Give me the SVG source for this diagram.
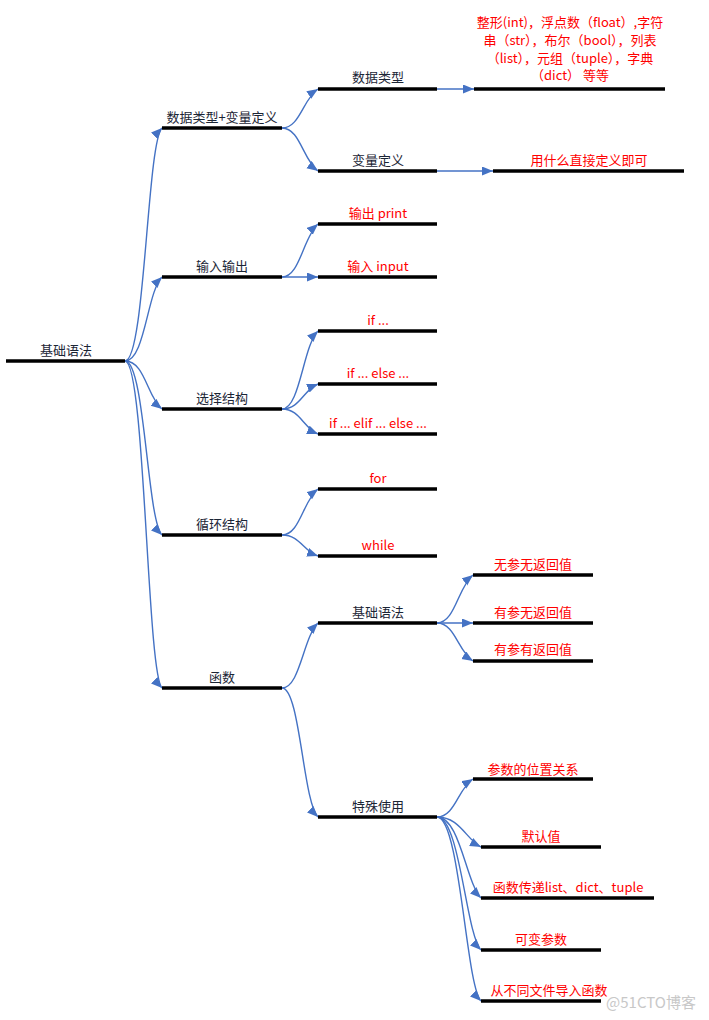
<svg xmlns="http://www.w3.org/2000/svg" width="709" height="1020" viewBox="0 0 709 1020">
<style>
.bar{stroke:#000;stroke-width:3.5;fill:none}
.c{stroke:#4472C4;stroke-width:1.4;fill:none;marker-end:url(#ar)}
text{font-family:"Microsoft YaHei","Noto Sans CJK SC","Noto Sans",sans-serif;font-size:13px;text-anchor:middle}
.d{fill:#1B2535}
.r{fill:#FF0000}
</style>
<defs>
<marker id="ar" markerUnits="userSpaceOnUse" markerWidth="12" markerHeight="10" refX="11" refY="4.5" orient="auto">
<path d="M0,0 L11,4.5 L0,9 z" fill="#4472C4"/>
</marker>
</defs>
<rect width="709" height="1020" fill="#fff"/>
<g id="connectors">
<path class="c" d="M125,361 C145,361 147,143 162,128"/>
<path class="c" d="M125,361 C145,361 147,292 162,277"/>
<path class="c" d="M125,361 C145,361 147,397 162,409"/>
<path class="c" d="M125,361 C145,361 147,520 162,535"/>
<path class="c" d="M125,361 C145,361 147,673 162,688"/>
<path class="c" d="M282,128 C300,128 303,98.75 318,89"/>
<path class="c" d="M282,128 C300,128 303,160.25 318,171"/>
<path class="c" d="M437,89 L474,89"/>
<path class="c" d="M437,171 L493,171"/>
<path class="c" d="M282,277 C300,277 303,237.25 318,224"/>
<path class="c" d="M282,277 L318,277"/>
<path class="c" d="M282,409 C300,409 303,346 318,331"/>
<path class="c" d="M282,409 C300,409 303,390.25 318,384"/>
<path class="c" d="M282,409 C300,409 303,427.75 318,434"/>
<path class="c" d="M282,535 C300,535 303,500.5 318,489"/>
<path class="c" d="M282,535 C300,535 303,550.75 318,556"/>
<path class="c" d="M282,688 C300,688 303,638 318,623"/>
<path class="c" d="M282,688 C300,688 303,802 318,817"/>
<path class="c" d="M437,623 C455,623 458,587 473,575"/>
<path class="c" d="M437,623 L473,623"/>
<path class="c" d="M437,623 C455,623 458,651.5 473,661"/>
<path class="c" d="M437,817 C455,817 458,788.5 473,779"/>
<path class="c" d="M437,817 C460,817 466,839.5 481,847"/>
<path class="c" d="M437,817 C460,817 466,883 481,898"/>
<path class="c" d="M437,817 C460,817 466,935 481,950"/>
<path class="c" d="M437,817 C460,817 466,986 481,1001"/>
</g>
<g id="root"><line class="bar" x1="6" y1="361" x2="125" y2="361"/><text class="d" x="66" y="355">基础语法</text></g>
<g id="n1"><line class="bar" x1="162" y1="128" x2="282" y2="128"/><text class="d" x="222" y="122">数据类型+变量定义</text></g>
<g id="n2"><line class="bar" x1="162" y1="277" x2="282" y2="277"/><text class="d" x="222" y="271">输入输出</text></g>
<g id="n3"><line class="bar" x1="162" y1="409" x2="282" y2="409"/><text class="d" x="222" y="403">选择结构</text></g>
<g id="n4"><line class="bar" x1="162" y1="535" x2="282" y2="535"/><text class="d" x="222" y="529">循环结构</text></g>
<g id="n5"><line class="bar" x1="162" y1="688" x2="282" y2="688"/><text class="d" x="222" y="682">函数</text></g>
<g id="n1a"><line class="bar" x1="318" y1="89" x2="437" y2="89"/><text class="d" x="378" y="82">数据类型</text></g>
<g id="n1b"><line class="bar" x1="318" y1="171" x2="437" y2="171"/><text class="d" x="378" y="165">变量定义</text></g>
<g id="n1a1"><line class="bar" x1="474" y1="89" x2="665" y2="89"/>
<text class="r" x="570" y="27">整形(int)，浮点数（float）,字符</text>
<text class="r" x="570" y="45">串（str），布尔（bool），列表</text>
<text class="r" x="570" y="63">（list），元组（tuple），字典</text>
<text class="r" x="570" y="80">（dict） 等等</text></g>
<g id="n1b1"><line class="bar" x1="493" y1="171" x2="684" y2="171"/><text class="r" x="589" y="165">用什么直接定义即可</text></g>
<g id="n2a"><line class="bar" x1="318" y1="224" x2="437" y2="224"/><text class="r" x="378" y="218">输出 print</text></g>
<g id="n2b"><line class="bar" x1="318" y1="277" x2="437" y2="277"/><text class="r" x="378" y="271">输入 input</text></g>
<g id="n3a"><line class="bar" x1="318" y1="331" x2="437" y2="331"/><text class="r" x="378" y="325">if ...</text></g>
<g id="n3b"><line class="bar" x1="318" y1="384" x2="437" y2="384"/><text class="r" x="378" y="378">if ... else ...</text></g>
<g id="n3c"><line class="bar" x1="318" y1="434" x2="437" y2="434"/><text class="r" x="378" y="428">if ... elif ... else ...</text></g>
<g id="n4a"><line class="bar" x1="318" y1="489" x2="437" y2="489"/><text class="r" x="378" y="483">for</text></g>
<g id="n4b"><line class="bar" x1="318" y1="556" x2="437" y2="556"/><text class="r" x="378" y="550">while</text></g>
<g id="n5a"><line class="bar" x1="318" y1="623" x2="437" y2="623"/><text class="d" x="378" y="617">基础语法</text></g>
<g id="n5b"><line class="bar" x1="318" y1="817" x2="437" y2="817"/><text class="d" x="378" y="811">特殊使用</text></g>
<g id="n5a1"><line class="bar" x1="473" y1="575" x2="593" y2="575"/><text class="r" x="533" y="569">无参无返回值</text></g>
<g id="n5a2"><line class="bar" x1="473" y1="623" x2="593" y2="623"/><text class="r" x="533" y="617">有参无返回值</text></g>
<g id="n5a3"><line class="bar" x1="473" y1="661" x2="593" y2="661"/><text class="r" x="533" y="654">有参有返回值</text></g>
<g id="n5b1"><line class="bar" x1="473" y1="779" x2="593" y2="779"/><text class="r" x="533" y="774">参数的位置关系</text></g>
<g id="n5b2"><line class="bar" x1="481" y1="847" x2="601" y2="847"/><text class="r" x="541" y="841">默认值</text></g>
<g id="n5b3"><line class="bar" x1="481" y1="898" x2="654" y2="898"/><text class="r" x="568" y="892">函数传递list、dict、tuple</text></g>
<g id="n5b4"><line class="bar" x1="481" y1="950" x2="601" y2="950"/><text class="r" x="541" y="944">可变参数</text></g>
<g id="n5b5"><line class="bar" x1="481" y1="1001" x2="601" y2="1001"/><text class="r" x="549" y="995">从不同文件导入函数</text></g>
<text x="651" y="1008" style="fill:#c8c8c8;font-size:15px">@51CTO博客</text>
</svg>
